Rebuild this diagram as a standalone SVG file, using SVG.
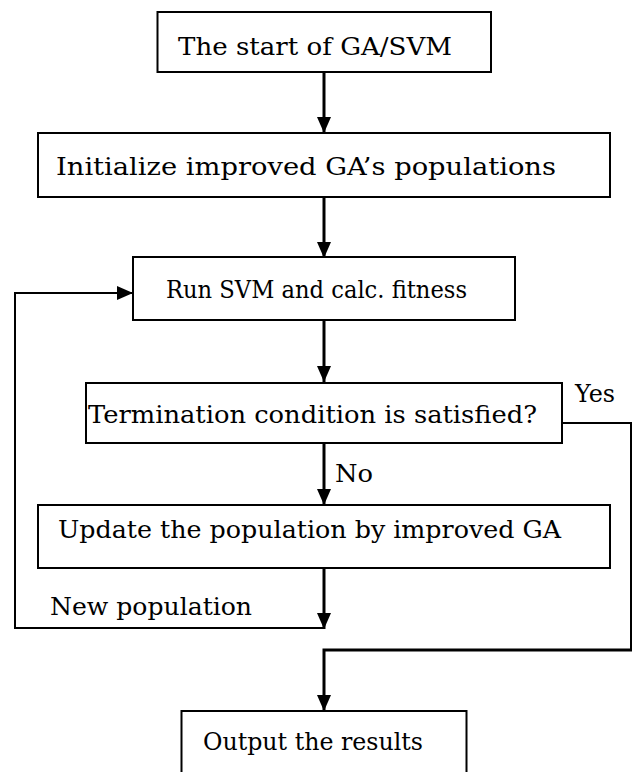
<svg xmlns="http://www.w3.org/2000/svg" width="633" height="772" viewBox="0 0 633 772">
<style>
.box{fill:#fff;stroke:#000;stroke-width:2}
.t{font-family:"DejaVu Serif","Liberation Serif",serif;font-size:24px;fill:#000}
.a{fill:none;stroke:#000;stroke-width:3}
.c{fill:none;stroke:#000;stroke-width:2}
</style>
<defs>
<marker id="ah" markerUnits="userSpaceOnUse" markerWidth="16" markerHeight="14" refX="16" refY="7" orient="auto">
<path d="M0,0 L16,7 L0,14 z" fill="#000"/>
</marker>
</defs>
<rect width="633" height="772" fill="#fff"/>
<g id="connectors">
<line class="a" x1="324" y1="72" x2="324" y2="133" marker-end="url(#ah)"/>
<line class="a" x1="324" y1="198" x2="324" y2="258" marker-end="url(#ah)"/>
<line class="a" x1="324" y1="321" x2="324" y2="382" marker-end="url(#ah)"/>
<line class="a" x1="324" y1="443" x2="324" y2="505" marker-end="url(#ah)"/>
<line class="a" x1="324" y1="569" x2="324" y2="629" marker-end="url(#ah)"/>
<path class="c" d="M324,628 H15 V293 H133" marker-end="url(#ah)"/>
<path class="c" d="M562,423 H631 V650"/>
<path class="a" d="M632,650 H324 V711" marker-end="url(#ah)"/>
<text class="t" x="575" y="402" textLength="40" lengthAdjust="spacingAndGlyphs">Yes</text>
<text class="t" x="335" y="482" textLength="38" lengthAdjust="spacingAndGlyphs">No</text>
<text class="t" x="50" y="615" textLength="202" lengthAdjust="spacingAndGlyphs">New population</text>
</g>
<g id="start">
<rect class="box" x="157.5" y="12" width="333.5" height="60"/>
<text class="t" x="178" y="55" textLength="274" lengthAdjust="spacingAndGlyphs">The start of GA/SVM</text>
</g>
<g id="init">
<rect class="box" x="38" y="133" width="572" height="64"/>
<text class="t" x="56" y="175" textLength="500" lengthAdjust="spacingAndGlyphs">Initialize improved GA’s populations</text>
</g>
<g id="run">
<rect class="box" x="133" y="257" width="382" height="63"/>
<text class="t" x="166" y="298" textLength="301" lengthAdjust="spacingAndGlyphs">Run SVM and calc.  fitness</text>
</g>
<g id="term">
<rect class="box" x="86" y="383" width="476" height="60"/>
<text class="t" x="88" y="423" textLength="449" lengthAdjust="spacingAndGlyphs">Termination condition is satisfied?</text>
</g>
<g id="update">
<rect class="box" x="38" y="505" width="572" height="63"/>
<text class="t" x="58" y="538" textLength="503" lengthAdjust="spacingAndGlyphs">Update the population by improved GA</text>
</g>
<g id="output">
<rect class="box" x="181.5" y="711" width="285" height="80"/>
<text class="t" x="203" y="750" textLength="220" lengthAdjust="spacingAndGlyphs">Output the results</text>
</g>
</svg>
